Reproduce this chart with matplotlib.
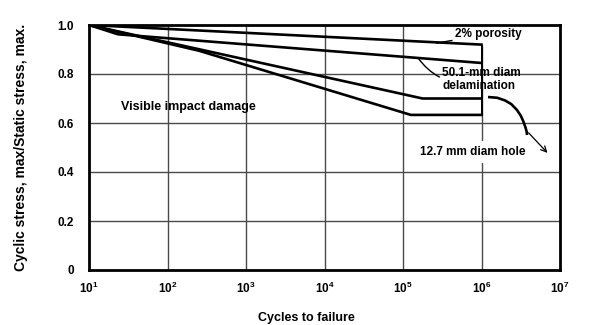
import numpy as np
import matplotlib.pyplot as plt

plt.rcParams['font.family'] = ['Liberation Sans', 'DejaVu Sans']
plt.rcParams['font.weight'] = 'bold'
plt.rcParams['axes.labelweight'] = 'bold'
plt.rcParams['mathtext.fontset'] = 'custom'
plt.rcParams['mathtext.rm'] = 'Liberation Sans:bold'
plt.rcParams['mathtext.it'] = 'Liberation Sans:bold'
plt.rcParams['mathtext.bf'] = 'Liberation Sans:bold'

# S-N 曲線 (cycles, stress ratio) 讀自圖片
porosity_x = [1e1, 1e6]
porosity_y = [1.0, 0.92]

delam_x = [1e1, 10**1.37, 1e6]
delam_y = [1.0, 0.962, 0.845]

impact_x = [1e1, 10**5.25, 1e6]
impact_y = [1.0, 0.70, 0.70]

hole_x = [1e1, 10**2.4, 10**5.1, 1e6]
hole_y = [1.0, 0.895, 0.633, 0.633]

# 12.7 mm 孔的斷裂彎曲段
drop_logx = [6.083, 6.20, 6.30, 6.38, 6.452, 6.50, 6.535, 6.56, 6.575, 6.580]
drop_y = [0.706, 0.703, 0.692, 0.677, 0.653, 0.630, 0.605, 0.582, 0.565, 0.551]

yticks = [0, 0.2, 0.4, 0.6, 0.8, 1.0]
ytick_labels = ['0', '0.2', '0.4', '0.6', '0.8', '1.0']
xticks = [1e1, 1e2, 1e3, 1e4, 1e5, 1e6, 1e7]

fig = plt.figure(figsize=(5.89, 3.25), dpi=100)
ax = fig.add_axes([89 / 589, 55 / 325, 471 / 589, 245 / 325])

ax.set_xscale('log')
ax.set_xlim(1e1, 1e7)
ax.set_ylim(0, 1.0)

# 格線
grid_c = '#4a4a4a'
for yv in yticks[1:-1]:
    ax.axhline(yv, color=grid_c, lw=1.0, zorder=1)
for xv in xticks[1:-2]:
    ax.vlines(xv, 0, 1.0, color=grid_c, lw=1.0, zorder=1)
ax.vlines(1e6, 0, porosity_y[-1], color=grid_c, lw=1.0, zorder=1)
ax.vlines(1e6, hole_y[-1], porosity_y[-1], color='black', lw=1.4, zorder=3)

lw = 1.9
ax.plot(porosity_x, porosity_y, color='black', lw=lw, zorder=3)
ax.plot(delam_x, delam_y, color='black', lw=lw, zorder=3)
ax.plot(impact_x, impact_y, color='black', lw=lw, zorder=3)
ax.plot(hole_x, hole_y, color='black', lw=lw, zorder=3)
ax.plot(10 ** np.array(drop_logx), drop_y, color='black', lw=lw, zorder=3,
        solid_capstyle='butt', solid_joinstyle='round')

# 標註
ax.text(10**2.27, 0.665, 'Visible impact damage', fontsize=9, ha='center', va='center')
ax.annotate('2% porosity', xy=(10**5.43, 0.926), xytext=(10**5.66, 0.963),
            fontsize=8.5, ha='left', va='center',
            arrowprops=dict(arrowstyle='-', color='black', lw=1.0, shrinkA=0, shrinkB=0))
ax.annotate('50.1-mm diam\ndelamination', xy=(10**5.19, 0.866), xytext=(10**5.5, 0.778),
            fontsize=8.5, ha='left', va='center', linespacing=1.1,
            arrowprops=dict(arrowstyle='-', color='black', lw=1.0, shrinkA=0, shrinkB=0,
                            connectionstyle='arc3,rad=-0.35'))
ax.text(10**5.89, 0.482, '12.7 mm diam hole', fontsize=8.5, ha='center', va='center',
        bbox=dict(boxstyle='square,pad=0.4', fc='white', ec='none'), zorder=2)
ax.annotate('', xy=(10**6.84, 0.478), xytext=(10**6.6, 0.56),
            arrowprops=dict(arrowstyle='->', color='black', lw=0.9, shrinkA=0, shrinkB=0))

for s in ax.spines.values():
    s.set_linewidth(2.0)
    s.set_zorder(4)

ax.set_yticks(yticks)
ax.set_yticklabels(ytick_labels)
ax.set_xticks(xticks)
ax.set_xticklabels([f'$10^{{{int(np.log10(v))}}}$' for v in xticks])
ax.xaxis.set_minor_locator(plt.NullLocator())
ax.tick_params(axis='y', length=0, labelsize=8.5, pad=11)
ax.tick_params(axis='x', length=0, labelsize=8.5, pad=8)

ax.set_ylabel('Cyclic stress, max/Static stress, max.', fontsize=10)
ax.set_xlabel('Cycles to failure', fontsize=9)
ax.xaxis.set_label_coords((306 - 89) / 471, -42 / 245)
ax.yaxis.set_label_coords((28 - 89) / 471, 0.5)

fig.savefig('out.png', dpi=100)
